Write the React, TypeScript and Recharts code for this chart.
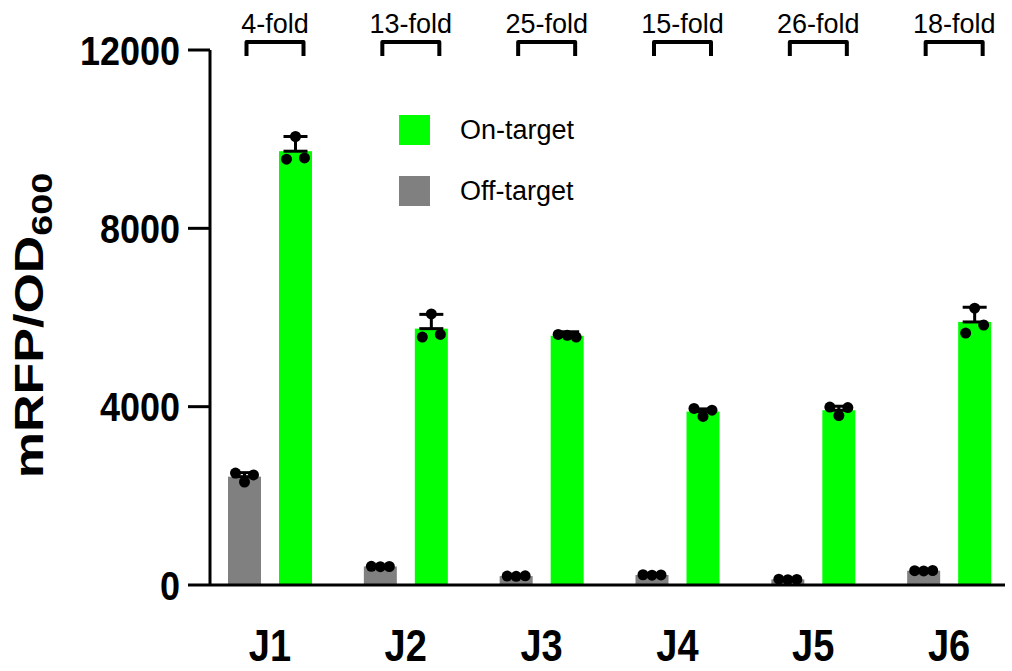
import React from "react";
import { BarChart, Bar, XAxis, YAxis, ErrorBar, Legend, LabelList } from "recharts";

const constructs = ["J1", "J2", "J3", "J4", "J5", "J6"];
const foldLabels = ["4-fold", "13-fold", "25-fold", "15-fold", "26-fold", "18-fold"];

const onTarget = [9730, 5750, 5590, 3890, 3920, 5900];
const onTargetSd = [330, 320, 90, 60, 90, 330];
const onTargetReps = [
  [9550, 9580, 10060],
  [5560, 5620, 6080],
  [5620, 5560, 5600],
  [3960, 3920, 3780],
  [3990, 3980, 3800],
  [5650, 5830, 6210],
];

const offTarget = [2430, 415, 200, 225, 125, 320];
const offTargetSd = [90, 20, 15, 20, 15, 20];
const offTargetReps = [
  [2510, 2470, 2310],
  [420, 415, 410],
  [200, 205, 195],
  [230, 225, 220],
  [130, 125, 120],
  [320, 325, 315],
];

const yTicks = [0, 4000, 8000, 12000];

const GREEN = "#00ff00";
const GRAY = "#808080";
const FONT = '"Liberation Sans", Arial, sans-serif';
const BAR_SIZE = 33;
const BAR_GAP = 18;
const DOT_DX = [-9, 9, 0];

const data = constructs.map((name, i) => ({
  name,
  fold: foldLabels[i],
  on: onTarget[i],
  onErr: [0, onTargetSd[i]],
  onReps: onTargetReps[i],
  off: offTarget[i],
  offErr: [0, offTargetSd[i]],
  offReps: offTargetReps[i],
}));

function barWithDots(valueKey: string, repKey: string) {
  return (props: any) => {
    const { x, y, width, height, fill, payload } = props;
    const base = y + height;
    const pxPer = height / payload[valueKey];
    const cx = x + width / 2;
    return (
      <g>
        <rect x={x} y={y} width={width} height={height} fill={fill} />
        {payload[repKey].map((v: number, k: number) => (
          <circle key={k} cx={cx + DOT_DX[k]} cy={base - v * pxPer} r={5.5} fill="#000" />
        ))}
      </g>
    );
  };
}

function FoldLabel(props: any) {
  const vb = props.viewBox ?? {};
  const x = props.x ?? vb.x;
  const w = props.width ?? vb.width;
  const greenC = x + w / 2;
  const grayC = greenC - w - BAR_GAP;
  const x1 = grayC + 2;
  const x2 = greenC + 8;
  return (
    <g>
      <path
        d={`M${x1},56 L${x1},42 L${x2},42 L${x2},56`}
        fill="none"
        stroke="#000"
        strokeWidth={4}
        strokeLinejoin="round"
      />
      <text x={(x1 + x2) / 2} y={33} textAnchor="middle" fontSize={27} fill="#000" fontFamily={FONT}>
        {props.value}
      </text>
    </g>
  );
}

function XTick(props: any) {
  const { x, y, payload } = props;
  return (
    <g transform={`translate(${x}, ${y + 27})`}>
      <text transform="scale(1, 1.18)" textAnchor="middle" fontSize={38} fontWeight={700} fill="#000" fontFamily={FONT}>
        {payload.value}
      </text>
    </g>
  );
}

function YTick(props: any) {
  const { x, y, payload } = props;
  return (
    <g transform={`translate(${x}, ${y})`}>
      <text transform="scale(1, 1.15)" dy="0.355em" textAnchor="end" fontSize={36} fontWeight={700} fill="#000" fontFamily={FONT}>
        {payload.value}
      </text>
    </g>
  );
}

function YTitle(props: any) {
  const vb = props.viewBox ?? { y: 50, height: 535 };
  const cy = vb.y + vb.height / 2 + 8;
  return (
    <text
      transform={`translate(43, ${cy}) rotate(-90) scale(1.3, 1)`}
      textAnchor="middle"
      fontSize={40}
      fontWeight={700}
      fill="#000"
      fontFamily={FONT}
    >
      mRFP/OD
      <tspan dy={9} fontSize={29}>600</tspan>
    </text>
  );
}

function LegendBox() {
  const rows = [
    { label: "On-target", color: GREEN },
    { label: "Off-target", color: GRAY },
  ];
  return (
    <div style={{ fontFamily: FONT }}>
      {rows.map((r, i) => (
        <div key={r.label} style={{ display: "flex", alignItems: "center", height: 30, marginBottom: i === 0 ? 31 : 0 }}>
          <div style={{ width: 31, height: 30, background: r.color, marginRight: 30 }} />
          <span style={{ fontSize: 27, color: "#000" }}>{r.label}</span>
        </div>
      ))}
    </div>
  );
}

export default function App() {
  return (
    <div style={{ position: "absolute", left: 0, top: 0, width: 1012, height: 671, background: "#fff", fontFamily: FONT }}>
      <BarChart
        width={1012}
        height={671}
        data={data}
        margin={{ top: 50, right: 7, bottom: 26, left: 0 }}
        barSize={BAR_SIZE}
        barGap={BAR_GAP}
      >
        <XAxis
          dataKey="name"
          height={60}
          padding={{ left: -8, right: -12 }}
          axisLine={{ stroke: "#000", strokeWidth: 3 }}
          tickLine={false}
          tickMargin={43}
          interval={0}
          tick={<XTick />}
        />
        <YAxis
          domain={[0, 12000]}
          ticks={yTicks}
          width={210}
          interval={0}
          axisLine={{ stroke: "#000", strokeWidth: 3 }}
          tickLine={{ stroke: "#000", strokeWidth: 3 }}
          tickSize={22}
          tickMargin={8}
          tick={<YTick />}
          label={<YTitle />}
        />
        <Legend
          layout="vertical"
          align="center"
          verticalAlign="middle"
          wrapperStyle={{ left: 399, top: 115, width: 240, height: 100 }}
          content={() => <LegendBox />}
        />
        <Bar dataKey="off" name="Off-target" fill={GRAY} isAnimationActive={false} shape={barWithDots("off", "offReps")}>
          <ErrorBar dataKey="offErr" direction="y" width={12} stroke="#000" strokeWidth={3} />
        </Bar>
        <Bar dataKey="on" name="On-target" fill={GREEN} isAnimationActive={false} shape={barWithDots("on", "onReps")}>
          <ErrorBar dataKey="onErr" direction="y" width={12} stroke="#000" strokeWidth={3} />
          <LabelList dataKey="fold" content={FoldLabel} />
        </Bar>
      </BarChart>
    </div>
  );
}
